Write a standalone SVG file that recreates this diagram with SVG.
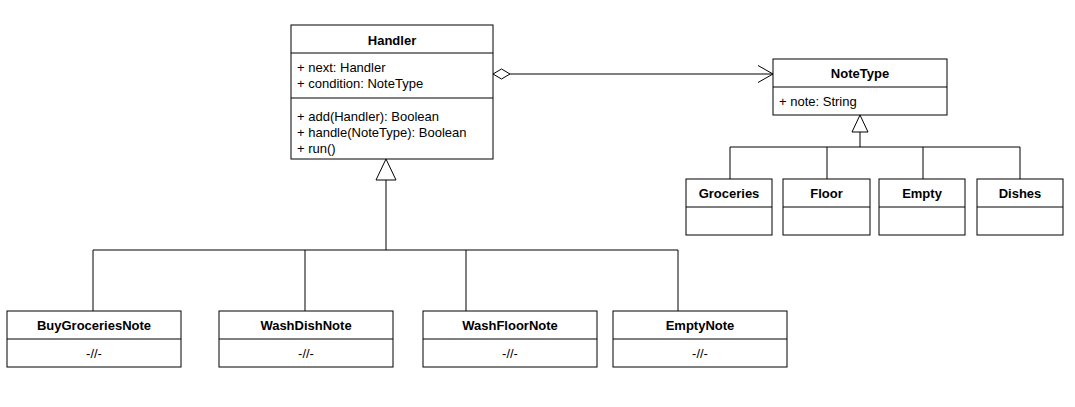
<svg xmlns="http://www.w3.org/2000/svg" width="1075" height="407" viewBox="0 0 1075 407">
<style>
.box{fill:#fff;stroke:#000;stroke-width:1}
.ln{fill:none;stroke:#000;stroke-width:1}
.t{font-family:"Liberation Sans",Arial,sans-serif;font-size:13px;fill:#000}
.b{font-weight:bold;text-anchor:middle}
.c{text-anchor:middle}
</style>
<rect width="1075" height="407" fill="#fff"/>
<g id="connectors">
<path class="ln" d="M386 180V250M93 250H678M93 250V311M305 250V311M466 250V311M678 250V311"/>
<path class="box" d="M386 159L396 180H376Z"/>
<path class="ln" d="M860 132V147M730 147H1020M730 147V179M827 147V179M923 147V179M1020 147V179"/>
<path class="box" d="M860 115L868 132H852Z"/>
<path class="ln" d="M510 74H773"/>
<path class="box" d="M493 74L501.5 69L510 74L501.5 79Z"/>
<path class="ln" d="M758 65.5L773 74L758 82.5"/>
</g>
<g id="Handler">
<rect class="box" x="291" y="25" width="202" height="134"/>
<path class="ln" d="M291 53H493M291 98H493"/>
<text class="t b" x="392" y="45">Handler</text>
<text class="t" x="297" y="72">+ next: Handler</text>
<text class="t" x="297" y="88">+ condition: NoteType</text>
<text class="t" x="297" y="121">+ add(Handler): Boolean</text>
<text class="t" x="297" y="137">+ handle(NoteType): Boolean</text>
<text class="t" x="297" y="153">+ run()</text>
</g>
<g id="NoteType">
<rect class="box" x="773" y="59" width="174" height="56"/>
<path class="ln" d="M773 87H947"/>
<text class="t b" x="860" y="78">NoteType</text>
<text class="t" x="779" y="106">+ note: String</text>
</g>
<g id="Groceries">
<rect class="box" x="686" y="179" width="86" height="56"/>
<path class="ln" d="M686 207H772"/>
<text class="t b" x="729" y="198">Groceries</text>
</g>
<g id="Floor">
<rect class="box" x="783" y="179" width="87" height="56"/>
<path class="ln" d="M783 207H870"/>
<text class="t b" x="826.5" y="198">Floor</text>
</g>
<g id="Empty">
<rect class="box" x="879" y="179" width="86" height="56"/>
<path class="ln" d="M879 207H965"/>
<text class="t b" x="922" y="198">Empty</text>
</g>
<g id="Dishes">
<rect class="box" x="977" y="179" width="86" height="56"/>
<path class="ln" d="M977 207H1063"/>
<text class="t b" x="1020" y="198">Dishes</text>
</g>
<g id="BuyGroceriesNote">
<rect class="box" x="7" y="311" width="174" height="56"/>
<path class="ln" d="M7 339H181"/>
<text class="t b" x="94" y="330">BuyGroceriesNote</text>
<text class="t c" x="94" y="358">-//-</text>
</g>
<g id="WashDishNote">
<rect class="box" x="219" y="311" width="174" height="56"/>
<path class="ln" d="M219 339H393"/>
<text class="t b" x="306" y="330">WashDishNote</text>
<text class="t c" x="306" y="358">-//-</text>
</g>
<g id="WashFloorNote">
<rect class="box" x="423" y="311" width="174" height="56"/>
<path class="ln" d="M423 339H597"/>
<text class="t b" x="510" y="330">WashFloorNote</text>
<text class="t c" x="510" y="358">-//-</text>
</g>
<g id="EmptyNote">
<rect class="box" x="613" y="311" width="174" height="56"/>
<path class="ln" d="M613 339H787"/>
<text class="t b" x="700" y="330">EmptyNote</text>
<text class="t c" x="700" y="358">-//-</text>
</g>
</svg>
